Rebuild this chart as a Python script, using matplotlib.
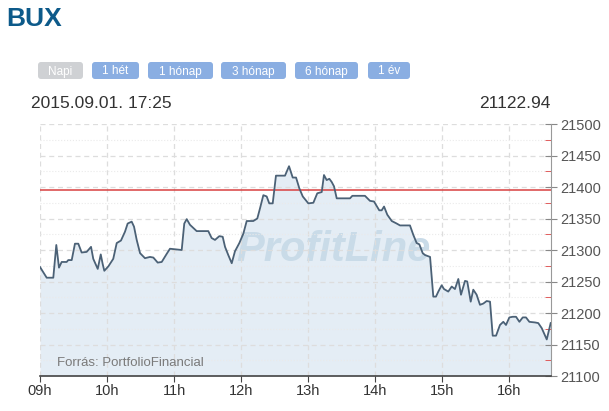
import matplotlib
matplotlib.use("Agg")
import matplotlib.pyplot as plt
from matplotlib.patches import FancyBboxPatch

# minutes after 09:00 and BUX index values
minutes = [0.0, 6.0, 11.9, 14.6, 17.0, 19.4, 23.9, 25.3, 28.4, 31.3, 34.3, 37.3,
           41.8, 45.7, 47.7, 51.7, 54.4, 56.1, 57.6, 61.2, 65.6, 68.7, 72.5, 76.1,
           78.5, 82.1, 84.2, 86.6, 89.6, 94.0, 98.5, 101.5, 105.4, 109.0, 113.5,
           116.4, 126.9, 129.2, 131.4, 134.3, 140.3, 150.7, 153.7, 156.7, 160.6,
           163.6, 165.7, 168.6, 171.7, 174.6, 178.5, 182.1, 185.1, 191.0, 194.6,
           197.0, 200.0, 203.0, 205.3, 208.4, 211.3, 219.4, 223.0, 226.3, 229.3,
           232.2, 235.3, 240.3, 244.8, 248.3, 252.3, 254.3, 256.7, 259.1, 261.2,
           263.3, 265.7, 277.6, 279.7, 291.0, 295.5, 299.1, 303.8, 306.0, 308.1,
           311.0, 315.0, 319.4, 322.4, 331.3, 334.3, 337.3, 339.7, 342.7, 344.8,
           349.3, 352.2, 354.6, 356.7, 359.7, 361.8, 365.6, 368.7, 371.6, 374.6,
           377.0, 380.6, 382.6, 385.7, 388.0, 391.0, 394.0, 397.0, 400.0, 403.0,
           405.4, 408.4, 411.9, 414.9, 417.3, 420.3, 423.3, 426.3, 429.3, 432.3,
           435.2, 438.2, 443.3, 446.2, 449.3, 453.8, 457.3]
values = [21273, 21256, 21256, 21308, 21272, 21281, 21281, 21284, 21284, 21310,
          21310, 21296, 21297, 21305, 21286, 21270, 21293, 21278, 21267, 21274,
          21286, 21311, 21315, 21329, 21342, 21345, 21337, 21316, 21295, 21287,
          21289, 21288, 21280, 21281, 21294, 21302, 21300, 21342, 21349, 21340,
          21330, 21330, 21319, 21316, 21322, 21321, 21305, 21292, 21279, 21298,
          21311, 21326, 21346, 21346, 21350, 21366, 21387, 21385, 21374, 21374,
          21418, 21418, 21433, 21415, 21415, 21398, 21385, 21374, 21375, 21390,
          21392, 21419, 21411, 21413, 21408, 21401, 21382, 21382, 21386, 21386,
          21378, 21377, 21363, 21363, 21369, 21356, 21346, 21342, 21339, 21339,
          21324, 21311, 21309, 21295, 21292, 21289, 21226, 21226, 21234, 21244,
          21238, 21234, 21242, 21238, 21254, 21229, 21251, 21250, 21218, 21237,
          21229, 21213, 21215, 21219, 21218, 21164, 21164, 21181, 21186, 21181,
          21193, 21194, 21194, 21186, 21193, 21193, 21186, 21185, 21184, 21176,
          21158, 21184]

prev_close = 21396
hour_labels = ["09h", "10h", "11h", "12h", "13h", "14h", "15h", "16h"]
buttons = ["Napi", "1 hét", "1 hónap", "3 hónap", "6 hónap", "1 év"]
stamp = "2015.09.01. 17:25"
last_value = "21122.94"

plt.rcParams['font.family'] = ['Liberation Sans', 'DejaVu Sans']

W, H = 609, 411
fig = plt.figure(figsize=(W / 100, H / 100), dpi=100)

# header drawn in pixel coordinates on an overlay
ov = fig.add_axes([0, 0, 1, 1])
ov.set_xlim(0, W)
ov.set_ylim(H, 0)
ov.axis('off')

ov.text(6, 19, "BUX", fontsize=19, fontweight='bold', color='#0d5a8a',
        va='center', ha='left')

btn_x = [(38, 83), (92, 139), (148, 213), (221, 286), (295, 358), (368, 410)]
for (x0, x1), lab in zip(btn_x, buttons):
    face = '#cfd1d4' if lab == "Napi" else '#8aaee2'
    box = FancyBboxPatch((x0, 62), x1 - x0, 17,
                         boxstyle="round,pad=0,rounding_size=3",
                         facecolor=face, edgecolor='none')
    ov.add_patch(box)
    ov.text((x0 + x1) / 2, 71.5, lab, fontsize=8.5, color='white',
            ha='center', va='center')

ov.text(31, 103, stamp, fontsize=12.5, color='#333333', va='center', ha='left')
ov.text(551, 103, last_value, fontsize=12.5, color='#333333', va='center',
        ha='right')

# chart area
ax = fig.add_axes([40 / W, (H - 376) / H, (551 - 40) / W, (376 - 124) / H])
ax.set_xlim(0, 457.6)
ax.set_ylim(21100, 21500)
ax.set_facecolor('none')

ax.fill_between(minutes, values, 21100, color='#e4edf5', lw=0, zorder=1)
ax.text(0.575, 0.5, "ProfitLine", transform=ax.transAxes, fontsize=30,
        fontweight='bold', fontstyle='italic', color='#c9dbe8',
        ha='center', va='center', zorder=1.2)
ax.plot(minutes, values, color='#4b6176', lw=1.3, zorder=3)
ax.axhline(prev_close, color='#d94040', lw=1.1, zorder=2.5)

ax.set_xticks([i * 60 for i in range(len(hour_labels))])
ax.set_xticklabels(hour_labels)
ax.set_yticks(range(21100, 21501, 50))
ax.set_yticks(range(21125, 21500, 50), minor=True)

ax.yaxis.tick_right()
ax.tick_params(axis='y', which='major', direction='inout', length=8,
               color='#888888', labelcolor='#555555', labelsize=10.5, pad=3)
ax.tick_params(axis='y', which='minor', direction='in', length=4,
               color='#dd4444')
ax.tick_params(axis='x', direction='out', length=4, color='#444444',
               labelcolor='#333333', labelsize=10.5, pad=2)

ax.set_axisbelow('line')
ax.grid(True, which='major', color='#dddddd', ls=(0, (4, 3)), lw=0.9)
ax.grid(True, which='minor', axis='y', color='#eaeaea', ls=':', lw=0.8)

for s in ['left', 'top']:
    ax.spines[s].set_visible(False)
ax.spines['right'].set_color('#999999')
ax.spines['bottom'].set_color('#444444')
ax.spines['bottom'].set_linewidth(1.2)

ax.text(15, 21121, "Forrás: PortfolioFinancial", fontsize=9.5,
        color='#7a7a7a', ha='left', va='center', zorder=4)

fig.savefig("out.png", dpi=100)
